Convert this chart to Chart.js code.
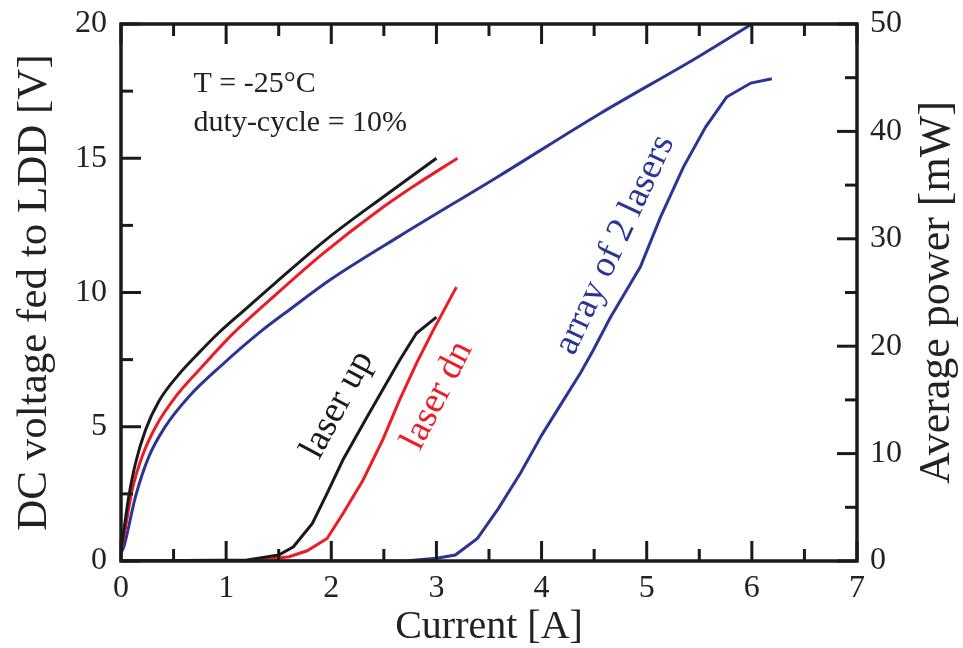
<!DOCTYPE html>
<html>
<head>
<meta charset="utf-8">
<script src="https://cdn.jsdelivr.net/npm/chart.js@4.4.1/dist/chart.umd.min.js"></script>
<style>
  html, body { margin: 0; padding: 0; background: #fff; }
</style>
</head>
<body>
<canvas id="chart" width="963" height="648"></canvas>
<script>
// DC voltage (left axis, V) vs current (A)
var up_v_current = [0, 0.01, 0.074, 0.138, 0.233, 0.36, 0.55, 0.74, 0.93, 1.16, 1.48, 1.96, 2.49, 3.0];
var up_v_volts   = [0.5, 0.7, 2.4, 3.64, 4.88, 5.95, 6.95, 7.75, 8.5, 9.3, 10.4, 12.0, 13.55, 15.0];

var dn_v_current = [0, 0.027, 0.106, 0.2, 0.33, 0.52, 0.74, 1.06, 1.48, 1.92, 2.43, 2.8, 3.2];
var dn_v_volts   = [0.4, 0.9, 2.64, 3.88, 5.0, 6.12, 7.1, 8.45, 9.95, 11.45, 13.0, 14.0, 15.0];

var arr_v_current = [0, 0.027, 0.138, 0.264, 0.42, 0.645, 0.96, 1.33, 1.6, 2.0, 2.65, 3.6, 4.55, 5.5, 6.0];
var arr_v_volts   = [0.3, 0.53, 2.4, 3.88, 5.0, 6.12, 7.3, 8.55, 9.35, 10.5, 12.1, 14.35, 16.65, 18.8, 20.0];

// average optical power (right axis, mW) vs current (A)
var up_p_current = [0, 1.2, 1.5, 1.64, 1.82, 1.96, 2.11, 2.34, 2.65, 2.81, 3.0];
var up_p_mw      = [0, 0.1, 0.56, 1.33, 3.5, 6.3, 9.4, 13.4, 18.7, 21.2, 22.7];

var dn_p_current = [0, 1.25, 1.6, 1.77, 1.96, 2.11, 2.3, 2.49, 2.65, 2.81, 2.97, 3.19];
var dn_p_mw      = [0, 0, 0.4, 0.95, 2.1, 4.4, 7.5, 11.3, 15.0, 18.4, 21.5, 25.5];

var arr_p_current = [0, 2.7, 3.0, 3.18, 3.39, 3.59, 3.8, 4.0, 4.21, 4.37, 4.49, 4.65, 4.94, 5.13, 5.35, 5.56, 5.76, 5.99, 6.19];
var arr_p_mw      = [0, 0, 0.25, 0.56, 2.1, 4.9, 8.2, 11.7, 15.0, 17.5, 19.6, 22.6, 27.4, 32.0, 36.7, 40.4, 43.2, 44.5, 44.9];

var BLACK = '#1a1a1a', RED = '#ec1c24', BLUE = '#2b3593';
var FONT = "'Liberation Serif', 'Times New Roman', serif";

function pts(xs, ys) {
  return xs.map(function (x, i) { return { x: x, y: ys[i] }; });
}

function line(label, xs, ys, color, axis, smooth) {
  var ds = {
    label: label,
    data: pts(xs, ys),
    borderColor: color,
    backgroundColor: color,
    yAxisID: axis,
    borderWidth: 3,
    pointRadius: 0,
    tension: 0,
    fill: false
  };
  if (smooth) ds.cubicInterpolationMode = 'monotone';
  return ds;
}

// fixed axis sizes so the plot box lands where the original one is
function fixBox(size) {
  return function (s) {
    if (s.isHorizontal()) s.height = size; else s.width = size;
    s.paddingTop = 0; s.paddingBottom = 0; s.paddingLeft = 0; s.paddingRight = 0;
  };
}

// frame, inward ticks, right title and the text labels
var decor = {
  id: 'decor',
  afterDatasetsDraw: function (chart) {
    var ctx = chart.ctx, a = chart.chartArea;
    var sx = chart.scales.x, sy = chart.scales.y, sy2 = chart.scales.y2;
    ctx.save();
    ctx.strokeStyle = BLACK;
    ctx.lineWidth = 3;
    var v, px, len;
    for (v = 0; v <= 7; v += 0.5) {
      px = sx.getPixelForValue(v);
      len = v % 1 === 0 ? 20 : 12;
      ctx.beginPath();
      ctx.moveTo(px, a.bottom); ctx.lineTo(px, a.bottom - len);
      ctx.moveTo(px, a.top); ctx.lineTo(px, a.top + len);
      ctx.stroke();
    }
    for (v = 0; v <= 20; v += 2.5) {
      px = sy.getPixelForValue(v);
      len = v % 5 === 0 ? 20 : 12;
      ctx.beginPath();
      ctx.moveTo(a.left, px); ctx.lineTo(a.left + len, px);
      ctx.stroke();
    }
    for (v = 0; v <= 50; v += 5) {
      px = sy2.getPixelForValue(v);
      len = v % 10 === 0 ? 20 : 12;
      ctx.beginPath();
      ctx.moveTo(a.right, px); ctx.lineTo(a.right - len, px);
      ctx.stroke();
    }
    ctx.lineWidth = 3.5;
    ctx.strokeRect(a.left, a.top, a.right - a.left, a.bottom - a.top);

    // right axis title, reading bottom to top
    ctx.fillStyle = '#222';
    ctx.font = '44px ' + FONT;
    ctx.textAlign = 'center';
    ctx.textBaseline = 'middle';
    ctx.save();
    ctx.translate(937, (a.top + a.bottom) / 2);
    ctx.rotate(-Math.PI / 2);
    ctx.fillText('Average power [mW]', 0, 0);
    ctx.restore();

    // conditions
    ctx.font = '30px ' + FONT;
    ctx.textAlign = 'left';
    ctx.textBaseline = 'alphabetic';
    ctx.fillText('T = -25°C', sx.getPixelForValue(0.69), sy.getPixelForValue(17.47));
    ctx.fillText('duty-cycle = 10%', sx.getPixelForValue(0.69), sy.getPixelForValue(16.0));

    // curve labels
    var labels = [
      { text: 'laser up', x: 2.06, y: 5.81, angle: -62, color: BLACK },
      { text: 'laser dn', x: 3.01, y: 6.16, angle: -63, color: RED },
      { text: 'array of 2 lasers', x: 4.70, y: 11.77, angle: -65, color: BLUE }
    ];
    ctx.font = '37px ' + FONT;
    ctx.textAlign = 'center';
    ctx.textBaseline = 'middle';
    labels.forEach(function (l) {
      ctx.save();
      ctx.translate(sx.getPixelForValue(l.x), sy.getPixelForValue(l.y));
      ctx.rotate(l.angle * Math.PI / 180);
      ctx.fillStyle = l.color;
      ctx.fillText(l.text, 0, 0);
      ctx.restore();
    });
    ctx.restore();
  }
};

new Chart(document.getElementById('chart'), {
  type: 'line',
  data: {
    datasets: [
      line('laser up V', up_v_current, up_v_volts, BLACK, 'y', true),
      line('laser dn V', dn_v_current, dn_v_volts, RED, 'y', true),
      line('array V', arr_v_current, arr_v_volts, BLUE, 'y', true),
      line('laser up P', up_p_current, up_p_mw, BLACK, 'y2', false),
      line('laser dn P', dn_p_current, dn_p_mw, RED, 'y2', false),
      line('array P', arr_p_current, arr_p_mw, BLUE, 'y2', false)
    ]
  },
  options: {
    responsive: false,
    animation: false,
    layout: { padding: { top: 24, left: 0, right: 0, bottom: 0 } },
    plugins: { legend: { display: false }, tooltip: { enabled: false } },
    scales: {
      x: {
        type: 'linear', min: 0, max: 7,
        ticks: { stepSize: 1, padding: 8, color: '#222', font: { family: FONT, size: 32 } },
        grid: { display: false, drawTicks: false },
        border: { display: false },
        title: { display: true, text: 'Current [A]', color: '#222',
                 font: { family: FONT, size: 40, lineHeight: 1 }, padding: { top: 0, bottom: 1 } },
        afterFit: fixBox(87)
      },
      y: {
        position: 'left', min: 0, max: 20,
        ticks: { stepSize: 5, padding: 14, color: '#222', font: { family: FONT, size: 32 } },
        grid: { display: false, drawTicks: false },
        border: { display: false },
        title: { display: true, text: 'DC voltage fed to LDD [V]', color: '#222',
                 font: { family: FONT, size: 43, lineHeight: 1 }, padding: { top: 13, bottom: 0 } },
        afterFit: fixBox(121)
      },
      y2: {
        position: 'right', min: 0, max: 50,
        ticks: { stepSize: 10, padding: 13, color: '#222', font: { family: FONT, size: 32 } },
        grid: { display: false, drawTicks: false },
        border: { display: false },
        afterFit: fixBox(106)
      }
    }
  },
  plugins: [decor]
});
</script>
</body>
</html>
